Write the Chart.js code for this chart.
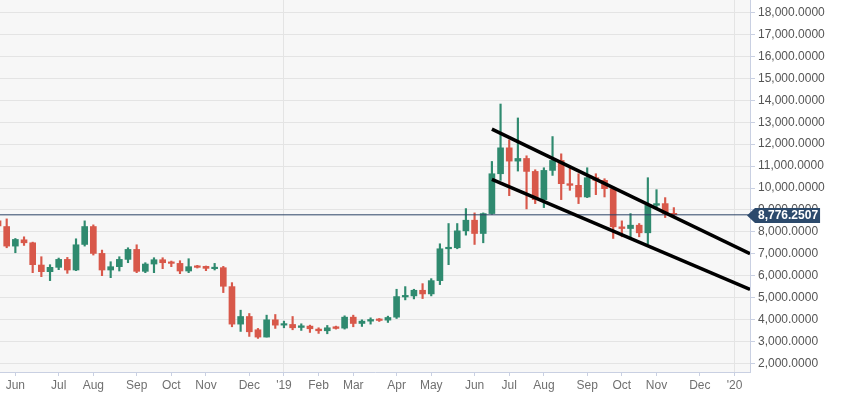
<!DOCTYPE html>
<html>
<head>
<meta charset="utf-8">
<script src="https://cdn.jsdelivr.net/npm/chart.js@4.4.1/dist/chart.umd.min.js"></script>
<style>
  body { margin: 0; background: #fff; }
  canvas { display: block; }
</style>
</head>
<body>
<canvas id="btcChart" width="850" height="399"></canvas>
<script>
// weekly candles, week index 0 = week of 21 May 2018
const firstWeek = -1;
const opens  = [8500, 8242, 7349, 7636, 7500, 6485, 6182, 6379, 6742, 6258, 7424, 8242, 7015, 6258, 6409, 6742, 7197, 6197, 6530, 6727, 6621, 6560, 6212, 6424, 6424, 6318, 6364, 5500, 3788, 4136, 3530, 3197, 3985, 3742, 3773, 3636, 3697, 3561, 3485, 3667, 3606, 4106, 3818, 3924, 4015, 3970, 4106, 5030, 5076, 5333, 5167, 5773, 7227, 7273, 8045, 8530, 7924, 8833, 10651, 11833, 11227, 11348, 10757, 9470, 10803, 11257, 10197, 10121, 9591, 10470, 10348, 9970, 8227, 8151, 8303, 7955, 9212, 9288, 8833];
const highs  = [8560, 8591, 7697, 7773, 7530, 6864, 6500, 6803, 6833, 7682, 8500, 8318, 7167, 6636, 6864, 7273, 7409, 6591, 6818, 6818, 6667, 6682, 6773, 6470, 6440, 6560, 6424, 5682, 4424, 4273, 3591, 4197, 4227, 3924, 4136, 3803, 3742, 3621, 3727, 3697, 4167, 4197, 3985, 4076, 4045, 4152, 5379, 5500, 5379, 5636, 5864, 7455, 8379, 8379, 9061, 8864, 8864, 11212, 13833, 12197, 13197, 11470, 10833, 10924, 12348, 11560, 10954, 10651, 10924, 10651, 10424, 10045, 8500, 8833, 8379, 10470, 9924, 9561, 9106];
const lows   = [8240, 7273, 7046, 7379, 6137, 5955, 5773, 6273, 6106, 6227, 7349, 6940, 6000, 5909, 6212, 6591, 6136, 6136, 6136, 6318, 6409, 6091, 6136, 6348, 6227, 6258, 5227, 3667, 3455, 3227, 3136, 3197, 3591, 3621, 3530, 3500, 3409, 3364, 3348, 3561, 3561, 3667, 3682, 3788, 3909, 3864, 4045, 4894, 4939, 4955, 5076, 5591, 6500, 7227, 7848, 7424, 7500, 8800, 10348, 9651, 10773, 9045, 9288, 9106, 10575, 9470, 9894, 9288, 9561, 9697, 9591, 7697, 7773, 7773, 7773, 7439, 9100, 8651, 8680];
const closes = [8270, 7349, 7652, 7500, 6500, 6182, 6379, 6742, 6258, 7409, 8242, 7015, 6258, 6409, 6742, 7197, 6197, 6530, 6727, 6591, 6560, 6212, 6409, 6379, 6333, 6364, 5515, 3788, 4136, 3439, 3197, 3985, 3742, 3788, 3621, 3712, 3576, 3485, 3621, 3591, 4106, 3818, 3924, 4000, 3955, 4091, 5045, 5076, 5333, 5167, 5773, 7227, 7273, 8045, 8530, 7924, 8833, 10651, 11833, 11227, 11348, 10757, 9470, 10803, 11257, 10197, 10121, 9591, 10470, 10348, 9970, 8227, 8151, 8303, 7955, 9212, 9288, 8833, 8776.2507];

// month ticks (week index of the candle that carries the label)
const tickWeeks  = [1, 6, 10, 15, 19, 23, 28, 32, 36, 40, 45, 49, 54, 58, 62, 67, 71, 75, 80, 84];
const tickLabels = ['Jun', 'Jul', 'Aug', 'Sep', 'Oct', 'Nov', 'Dec', "'19", 'Feb', 'Mar', 'Apr', 'May', 'Jun', 'Jul', 'Aug', 'Sep', 'Oct', 'Nov', 'Dec', "'20"];
const yTicks = [2000, 3000, 4000, 5000, 6000, 7000, 8000, 9000, 10000, 11000, 12000, 13000, 14000, 15000, 16000, 17000, 18000];

// drawn channel lines
const upperLineX = [56, 85.79];
const upperLineY = [12690, 7000];
const lowerLineX = [56, 85.79];
const lowerLineY = [10393, 5370];

const lastPrice = closes[closes.length - 1];
const xMin = -0.773, xMax = 85.79;

const GREEN = '#2f8a6f';
const RED = '#d8584a';

const weeks = closes.map((c, i) => firstWeek + i);
const candleColors = closes.map((c, i) => c >= opens[i] ? GREEN : RED);

const chartBg = {
  id: 'chartBg',
  beforeDraw(chart) {
    const { ctx, chartArea: a } = chart;
    ctx.save();
    ctx.fillStyle = '#ffffff';
    ctx.fillRect(0, 0, chart.width, chart.height);
    ctx.fillStyle = '#f7f7f7';
    ctx.fillRect(a.left, a.top, a.right - a.left, a.bottom - a.top);
    ctx.restore();
  }
};

const priceTag = {
  id: 'priceTag',
  afterDraw(chart) {
    const { ctx, chartArea: a } = chart;
    const y = Math.round(chart.scales.y.getPixelForValue(lastPrice)) + 0.5;
    const text = lastPrice.toLocaleString('en-US', { minimumFractionDigits: 4, maximumFractionDigits: 4 });
    ctx.save();
    ctx.font = 'bold 12px "Liberation Sans", Arial, sans-serif';
    const w = ctx.measureText(text).width;
    const x0 = a.right - 3;
    ctx.fillStyle = '#2c4a6c';
    ctx.beginPath();
    ctx.moveTo(x0, y);
    ctx.lineTo(x0 + 8, y - 7.5);
    ctx.lineTo(x0 + 13 + w, y - 7.5);
    ctx.lineTo(x0 + 13 + w, y + 7.5);
    ctx.lineTo(x0 + 8, y + 7.5);
    ctx.closePath();
    ctx.fill();
    ctx.fillStyle = '#ffffff';
    ctx.textBaseline = 'middle';
    ctx.fillText(text, x0 + 11, y + 0.5);
    ctx.restore();
  }
};

new Chart(document.getElementById('btcChart'), {
  type: 'bar',
  data: {
    datasets: [
      {
        type: 'line',
        data: upperLineX.map((x, i) => ({ x: x, y: upperLineY[i] })),
        borderColor: '#000000',
        borderWidth: 3.5,
        pointRadius: 0,
        order: 0
      },
      {
        type: 'line',
        data: lowerLineX.map((x, i) => ({ x: x, y: lowerLineY[i] })),
        borderColor: '#000000',
        borderWidth: 3.5,
        pointRadius: 0,
        order: 0
      },
      {
        type: 'line',
        data: [{ x: xMin, y: lastPrice }, { x: xMax, y: lastPrice }],
        borderColor: '#2c4366',
        borderWidth: 1,
        pointRadius: 0,
        order: 1
      },
      {
        data: weeks.map((w, i) => ({ x: w, y: [opens[i], closes[i]] })),
        backgroundColor: candleColors,
        barThickness: 6,
        minBarLength: 1.5,
        grouped: false,
        order: 2
      },
      {
        data: weeks.map((w, i) => ({ x: w, y: [lows[i], highs[i]] })),
        backgroundColor: candleColors,
        barThickness: 1.5,
        grouped: false,
        order: 3
      }
    ]
  },
  options: {
    responsive: false,
    animation: false,
    layout: { padding: 0 },
    plugins: { legend: { display: false }, tooltip: { enabled: false } },
    scales: {
      x: {
        type: 'linear',
        min: xMin,
        max: xMax,
        offset: false,
        afterBuildTicks: s => { s.ticks = tickWeeks.map(v => ({ value: v })); },
        afterFit: s => { s.height = 27; s.paddingLeft = 0; s.paddingRight = 0; },
        ticks: {
          autoSkip: false,
          maxRotation: 0,
          padding: 2,
          color: '#707070',
          font: { family: '"Liberation Sans", Arial, sans-serif', size: 12 },
          callback: v => tickLabels[tickWeeks.indexOf(v)]
        },
        grid: {
          offset: false,
          color: c => (c.tick && String(tickLabels[tickWeeks.indexOf(c.tick.value)]).startsWith("'")) ? '#e4e4e4' : 'rgba(0,0,0,0)',
          tickColor: '#c9d0e2',
          tickLength: 4
        },
        border: { color: '#c9d0e2' }
      },
      y: {
        position: 'right',
        min: 1603,
        max: 18580,
        afterBuildTicks: s => { s.ticks = yTicks.map(v => ({ value: v })); },
        afterFit: s => { s.width = 100; s.paddingTop = 0; s.paddingBottom = 0; },
        ticks: {
          padding: 3,
          color: '#555555',
          font: { family: '"Liberation Sans", Arial, sans-serif', size: 12 },
          callback: v => v.toLocaleString('en-US', { minimumFractionDigits: 4, maximumFractionDigits: 4 })
        },
        grid: { color: '#e4e4e4', tickColor: '#c9d0e2', tickLength: 5 },
        border: { color: '#c9d0e2' }
      }
    }
  },
  plugins: [chartBg, priceTag]
});
</script>
</body>
</html>
